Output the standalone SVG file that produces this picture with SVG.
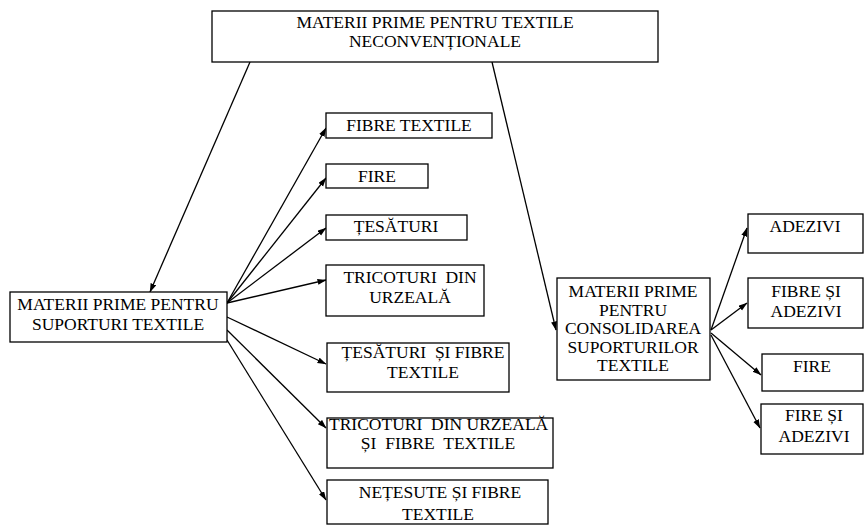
<svg xmlns="http://www.w3.org/2000/svg" width="864" height="526" viewBox="0 0 864 526">
<defs>
<style>
.box{fill:#fff;stroke:#000;stroke-width:1.3}
.t{font-family:"Liberation Serif","Times New Roman",serif;font-size:17.5px;fill:#000;text-anchor:middle}
.s{text-anchor:start}
.c{stroke:#000;stroke-width:1.3;fill:none;marker-end:url(#ah)}
</style>
<marker id="ah" markerUnits="userSpaceOnUse" markerWidth="9" markerHeight="7" refX="8.5" refY="3" orient="auto">
<path d="M0,0 L9,3 L0,6 Z" fill="#000"/>
</marker>
</defs>
<rect width="864" height="526" fill="#fff"/>
<g id="connectors">
<line class="c" x1="250" y1="62" x2="150" y2="292"/>
<line class="c" x1="492" y1="62" x2="556" y2="330"/>
<line class="c" x1="227" y1="303" x2="326" y2="128"/>
<line class="c" x1="227" y1="303" x2="326" y2="178"/>
<line class="c" x1="227" y1="303" x2="326" y2="228"/>
<line class="c" x1="227" y1="303" x2="326" y2="280"/>
<line class="c" x1="227" y1="317" x2="326" y2="364"/>
<line class="c" x1="227" y1="330" x2="326" y2="428"/>
<line class="c" x1="227" y1="340" x2="326" y2="500"/>
<line class="c" x1="711" y1="330" x2="747" y2="228"/>
<line class="c" x1="711" y1="330" x2="747" y2="303"/>
<line class="c" x1="711" y1="333" x2="761" y2="375"/>
<line class="c" x1="711" y1="335" x2="760" y2="428"/>
</g>
<g id="top">
<rect class="box" x="212" y="11" width="446" height="51"/>
<text class="t" x="435" y="28">MATERII PRIME PENTRU TEXTILE</text>
<text class="t" x="435" y="47">NECONVENȚIONALE</text>
</g>
<g id="suport">
<rect class="box" x="10" y="292" width="217" height="50"/>
<text class="t" x="118" y="310">MATERII PRIME PENTRU</text>
<text class="t" x="118" y="330">SUPORTURI TEXTILE</text>
</g>
<g id="fibre">
<rect class="box" x="326" y="113" width="166" height="25"/>
<text class="t" x="409" y="131">FIBRE TEXTILE</text>
</g>
<g id="fire">
<rect class="box" x="326" y="164" width="102" height="24"/>
<text class="t" x="377" y="182">FIRE</text>
</g>
<g id="tesaturi">
<rect class="box" x="326" y="215" width="141" height="25"/>
<text class="t" x="396" y="232">ȚESĂTURI</text>
</g>
<g id="tricoturi">
<rect class="box" x="326" y="265" width="158" height="51"/>
<text class="t" x="410" y="283">TRICOTURI&#160; DIN</text>
<text class="t" x="410" y="303">URZEALĂ</text>
</g>
<g id="tesaturi-fibre">
<rect class="box" x="327" y="343" width="182" height="49"/>
<text class="t" x="423" y="358">ȚESĂTURI&#160; ȘI FIBRE</text>
<text class="t" x="423" y="378">TEXTILE</text>
</g>
<g id="tricoturi-fibre">
<rect class="box" x="327" y="418" width="226" height="50"/>
<text class="t s" x="329" y="430">TRICOTURI&#160; DIN URZEALĂ</text>
<text class="t" x="438" y="449">ȘI&#160; FIBRE&#160; TEXTILE</text>
</g>
<g id="netesute">
<rect class="box" x="327" y="480" width="221" height="44"/>
<text class="t" x="440" y="498">NEȚESUTE ȘI FIBRE</text>
<text class="t" x="438" y="520">TEXTILE</text>
</g>
<g id="consolidare">
<rect class="box" x="557" y="278" width="153" height="102"/>
<text class="t" x="633" y="297">MATERII PRIME</text>
<text class="t" x="633" y="315.5">PENTRU</text>
<text class="t" x="633" y="334">CONSOLIDAREA</text>
<text class="t" x="633" y="352.5">SUPORTURILOR</text>
<text class="t" x="633" y="371">TEXTILE</text>
</g>
<g id="adezivi">
<rect class="box" x="748" y="214" width="115" height="39"/>
<text class="t" x="805" y="232">ADEZIVI</text>
</g>
<g id="fibre-adezivi">
<rect class="box" x="748" y="278" width="115" height="50"/>
<text class="t" x="806" y="297">FIBRE ȘI</text>
<text class="t" x="806" y="317">ADEZIVI</text>
</g>
<g id="fire2">
<rect class="box" x="762" y="354" width="101" height="37"/>
<text class="t" x="812" y="372">FIRE</text>
</g>
<g id="fire-adezivi">
<rect class="box" x="761" y="404" width="102" height="50"/>
<text class="t" x="814" y="421">FIRE ȘI</text>
<text class="t" x="814" y="442">ADEZIVI</text>
</g>
</svg>
